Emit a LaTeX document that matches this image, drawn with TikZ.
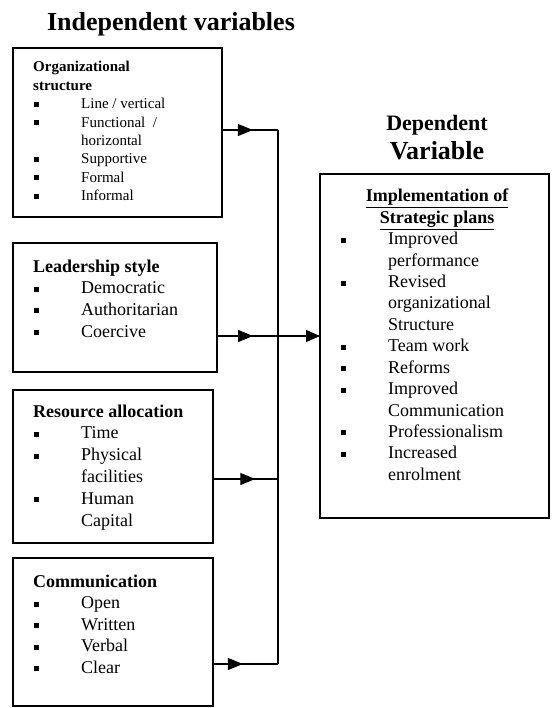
\documentclass[tikz,border=0pt]{standalone}
\usepackage{fontspec}
\setmainfont{Liberation Serif}
\usetikzlibrary{arrows.meta,decorations.markings}

\newcommand\itm{\makebox[48pt][l]{\hspace{1pt}\rule[2pt]{5pt}{5pt}}}
\newcommand\cont{\hspace*{48pt}}

\begin{document}
\begin{tikzpicture}[x=1pt,y=-1pt,
  varbox/.style={draw,line width=1.2pt,inner sep=0pt,outer sep=0pt,anchor=north west},
  boxtext/.style={anchor=base west,inner sep=0pt},
  link/.style={line width=1.2pt},
  midtip/.style={postaction={decorate},decoration={markings,
    mark=at position #1 with {\arrow{Triangle[length=15pt,width=12pt]}}}}]
\useasboundingbox (0,0) rectangle (551,708);

% headings
\node[inner sep=0pt,anchor=base] (indep) at (171,31) {\fontsize{26}{30}\selectfont\textbf{Independent variables}};
\node[inner sep=0pt,anchor=base] (dephead) at (437,131) {\fontsize{22}{26}\selectfont\textbf{Dependent}};
\node[inner sep=0pt,anchor=base] (depvar) at (437,160) {\fontsize{26}{30}\selectfont\textbf{Variable}};

% boxes
\node[varbox,minimum width=209pt,minimum height=169pt] (org) at (13,48) {};
\node[varbox,minimum width=204pt,minimum height=129pt] (lead) at (13,243) {};
\node[varbox,minimum width=200pt,minimum height=153pt] (res) at (13,390) {};
\node[varbox,minimum width=200pt,minimum height=148pt] (comm) at (13,558) {};
\node[varbox,minimum width=229pt,minimum height=344pt] (dep) at (320,174) {};

\node[boxtext] (orgtxt) at (33,72) {\parbox[t]{185pt}{\fontsize{15}{18.4}\selectfont
  \textbf{Organizational}\\
  \textbf{structure}\\
  \itm Line / vertical\\
  \itm Functional \ /\\
  \cont horizontal\\
  \itm Supportive\\
  \itm Formal\\
  \itm Informal}};
\node[boxtext] (leadtxt) at (33,272) {\parbox[t]{180pt}{\fontsize{18}{21.7}\selectfont
  \textbf{Leadership style}\\
  \itm Democratic\\
  \itm Authoritarian\\
  \itm Coercive}};
\node[boxtext] (restxt) at (33,417) {\parbox[t]{178pt}{\fontsize{18}{21.8}\selectfont
  \textbf{Resource allocation}\\
  \itm Time\\
  \itm Physical\\
  \cont facilities\\
  \itm Human\\
  \cont Capital}};
\node[boxtext] (commtxt) at (33,587) {\parbox[t]{178pt}{\fontsize{18}{21.6}\selectfont
  \textbf{Communication}\\
  \itm Open\\
  \itm Written\\
  \itm Verbal\\
  \itm Clear}};
\node[boxtext] (deptxt) at (340,202) {\parbox[t]{194pt}{\fontsize{18}{21.4}\selectfont
  {\centering\textbf{\underline{Implementation of}}\\
  \textbf{\underline{Strategic plans}}\par}
  \raggedright
  \itm Improved\\
  \cont performance\\
  \itm Revised\\
  \cont organizational\\
  \cont Structure\\
  \itm Team work\\
  \itm Reforms\\
  \itm Improved\\
  \cont Communication\\
  \itm Professionalism\\
  \itm Increased\\
  \cont enrolment}};

% connectors
\coordinate (jtop) at (278,130);
\coordinate (jlead) at (278,336);
\coordinate (jres) at (278,479);
\coordinate (jbot) at (278,664);

\draw[link,midtip=0.55] (org.east |- jtop) -- (jtop);
\draw[link] (jtop) -- (jbot);
\draw[link,midtip=0.35,-{Triangle[length=14pt,width=12pt]}] (lead.east |- jlead) -- (dep.west |- jlead);
\draw[link,midtip=0.65] (res.east |- jres) -- (jres);
\draw[link,midtip=0.46] (comm.east |- jbot) -- (jbot);
\end{tikzpicture}
\end{document}
